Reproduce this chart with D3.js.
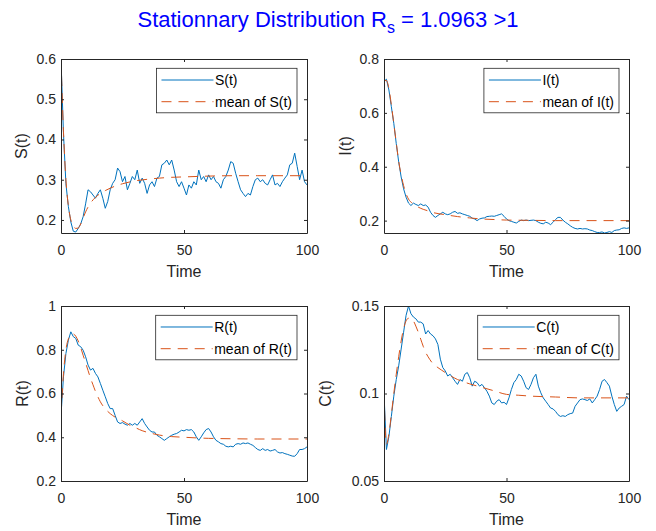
<!DOCTYPE html>
<html>
<head>
<meta charset="utf-8">
<script src="https://cdn.jsdelivr.net/npm/d3@7"></script>
<style>
  body { margin: 0; background: #fff; }
  svg { display: block; font-family: "Liberation Sans", Arial, sans-serif; }
</style>
</head>
<body>
<svg id="chart" width="656" height="531"></svg>
<script>
// sampling grid, t = 0 .. 100
const time = d3.range(0, 101);

const sValues = [
  0.6, 0.416, 0.29, 0.233, 0.195, 0.172, 0.17, 0.179, 0.19, 0.208,
  0.24, 0.275, 0.27, 0.262, 0.254, 0.266, 0.275, 0.254, 0.229, 0.246,
  0.275, 0.291, 0.3, 0.329, 0.32, 0.295, 0.308, 0.275, 0.291, 0.308,
  0.3, 0.324, 0.291, 0.304, 0.291, 0.266, 0.287, 0.295, 0.283, 0.304,
  0.308, 0.337, 0.341, 0.349, 0.337, 0.349, 0.324, 0.295, 0.283, 0.295,
  0.279, 0.262, 0.287, 0.279, 0.295, 0.287, 0.324, 0.3, 0.308, 0.295,
  0.312, 0.3, 0.308, 0.295, 0.291, 0.279, 0.3, 0.308, 0.324, 0.345,
  0.341, 0.316, 0.295, 0.275, 0.266, 0.258, 0.266, 0.262, 0.283, 0.3,
  0.304, 0.295, 0.3, 0.291, 0.287, 0.3, 0.312, 0.287, 0.291, 0.283,
  0.295, 0.304, 0.312, 0.337, 0.341, 0.366, 0.333, 0.3, 0.324, 0.295, 0.287
];
const iValues = [
  0.717, 0.725, 0.685, 0.623, 0.561, 0.486, 0.418, 0.362, 0.318, 0.287,
  0.265, 0.256, 0.265, 0.26, 0.256, 0.262, 0.256, 0.258, 0.25, 0.231,
  0.219, 0.212, 0.219, 0.225, 0.231, 0.225, 0.222, 0.225, 0.231, 0.234,
  0.227, 0.229, 0.225, 0.222, 0.219, 0.216, 0.209, 0.206, 0.2, 0.206,
  0.209, 0.21, 0.215, 0.216, 0.217, 0.216, 0.219, 0.222, 0.225, 0.216,
  0.206, 0.2, 0.197, 0.194, 0.191, 0.197, 0.202, 0.2, 0.202, 0.2,
  0.201, 0.202, 0.2, 0.194, 0.19, 0.188, 0.194, 0.191, 0.185, 0.194,
  0.204, 0.212, 0.212, 0.202, 0.194, 0.188, 0.181, 0.175, 0.171, 0.169,
  0.171, 0.169, 0.17, 0.169, 0.165, 0.163, 0.159, 0.156, 0.156, 0.158,
  0.154, 0.156, 0.159, 0.156, 0.163, 0.165, 0.166, 0.171, 0.173, 0.171, 0.173
];
const rValues = [
  0.5, 0.676, 0.783, 0.844, 0.882, 0.86, 0.852, 0.821, 0.814, 0.798,
  0.768, 0.73, 0.707, 0.715, 0.692, 0.676, 0.646, 0.615, 0.585, 0.554,
  0.531, 0.531, 0.5, 0.47, 0.463, 0.467, 0.46, 0.455, 0.463, 0.455,
  0.463, 0.455, 0.47, 0.485, 0.463, 0.447, 0.432, 0.424, 0.424, 0.409,
  0.402, 0.394, 0.386, 0.394, 0.402, 0.409, 0.414, 0.417, 0.424, 0.432,
  0.429, 0.435, 0.432, 0.435, 0.424, 0.402, 0.386, 0.402, 0.42, 0.435,
  0.44, 0.424, 0.402, 0.386, 0.379, 0.371, 0.368, 0.359, 0.356, 0.359,
  0.356, 0.368, 0.371, 0.368, 0.374, 0.371, 0.374, 0.368, 0.363, 0.353,
  0.344, 0.34, 0.348, 0.34, 0.344, 0.337, 0.34, 0.344, 0.333, 0.328,
  0.33, 0.325, 0.322, 0.318, 0.314, 0.313, 0.325, 0.344, 0.344, 0.348, 0.356
];
const cValues = [
  0.1, 0.068, 0.0754, 0.0869, 0.0985, 0.108, 0.1158, 0.1254, 0.135, 0.1446,
  0.15, 0.1456, 0.1437, 0.1427, 0.1408, 0.1408, 0.1398, 0.134, 0.136, 0.134,
  0.133, 0.1312, 0.128, 0.1196, 0.1148, 0.1129, 0.11, 0.111, 0.109, 0.107,
  0.1052, 0.108, 0.107, 0.111, 0.112, 0.109, 0.1042, 0.107, 0.1062, 0.1042,
  0.1052, 0.1033, 0.1013, 0.0985, 0.0946, 0.0937, 0.0956, 0.0965, 0.0946, 0.095,
  0.0937, 0.0975, 0.1023, 0.1062, 0.108, 0.111, 0.11, 0.107, 0.1033, 0.1023,
  0.1052, 0.109, 0.111, 0.1042, 0.1004, 0.0975, 0.0956, 0.0937, 0.0917, 0.0912,
  0.0898, 0.0879, 0.0869, 0.0873, 0.0869, 0.0879, 0.0885, 0.0888, 0.0927, 0.0946,
  0.0965, 0.0969, 0.0965, 0.096, 0.0969, 0.0946, 0.0965, 0.0985, 0.1023, 0.107,
  0.108, 0.1062, 0.1042, 0.0985, 0.0937, 0.0898, 0.0917, 0.0927, 0.0937, 0.0985, 0.0965
];

// mean curves (read at uneven time steps)
const sMeanT = [0, 1, 2, 3, 4, 5, 6, 7, 8, 9, 10, 12, 14, 16, 18, 20, 25, 30, 35, 40, 45, 50, 60, 70, 80, 100];
const sMean = [0.6, 0.42, 0.3, 0.235, 0.2, 0.185, 0.179, 0.18, 0.19, 0.205, 0.22, 0.242, 0.256, 0.266, 0.273, 0.279, 0.29, 0.297, 0.301, 0.304, 0.306, 0.307, 0.309, 0.31, 0.31, 0.31];
const iMeanT = [0, 1, 2, 3, 4, 5, 6, 7, 8, 9, 10, 12, 14, 16, 18, 20, 25, 30, 35, 40, 45, 50, 60, 70, 80, 100];
const iMean = [0.72, 0.72, 0.69, 0.63, 0.56, 0.49, 0.42, 0.37, 0.33, 0.3, 0.28, 0.262, 0.25, 0.242, 0.236, 0.23, 0.222, 0.215, 0.21, 0.206, 0.204, 0.202, 0.201, 0.2, 0.2, 0.2];
const rMeanT = [0, 1, 2, 3, 4, 5, 6, 7, 8, 9, 10, 11, 12, 13, 14, 15, 16, 18, 20, 22, 25, 28, 30, 33, 36, 40, 45, 50, 55, 60, 70, 80, 100];
const rMean = [0.5, 0.69, 0.8, 0.85, 0.87, 0.872, 0.862, 0.84, 0.81, 0.775, 0.74, 0.705, 0.67, 0.64, 0.61, 0.585, 0.562, 0.53, 0.508, 0.492, 0.475, 0.455, 0.445, 0.43, 0.42, 0.41, 0.403, 0.4, 0.397, 0.395, 0.393, 0.392, 0.392];
const cMeanT = [0, 1, 2, 3, 4, 5, 6, 7, 8, 9, 10, 11, 12, 13, 14, 15, 16, 17, 18, 20, 22, 25, 30, 35, 40, 45, 50, 55, 60, 70, 80, 100];
const cMean = [0.1, 0.071, 0.077, 0.088, 0.1, 0.111, 0.121, 0.13, 0.137, 0.1415, 0.143, 0.1428, 0.1415, 0.1385, 0.135, 0.131, 0.127, 0.1235, 0.121, 0.117, 0.1148, 0.112, 0.108, 0.1055, 0.1035, 0.1015, 0.0995, 0.099, 0.0985, 0.098, 0.0975, 0.0975];

const xTicks = [0, 50, 100];
const sTicks = [0.2, 0.3, 0.4, 0.5, 0.6];
const iTicks = [0.2, 0.4, 0.6, 0.8];
const rTicks = [0.2, 0.4, 0.6, 0.8, 1];
const cTicks = [0.05, 0.1, 0.15];

const blue = '#0072BD';
const orange = '#D95319';
const axisColor = '#262626';

const panels = [
  { name: 'S', values: sValues, meanT: sMeanT, mean: sMean, ticks: sTicks, yDomain: [0.1676, 0.6],
    left: 61, right: 307, top: 59, bottom: 233, labelX: 21.5 },
  { name: 'I', values: iValues, meanT: iMeanT, mean: iMean, ticks: iTicks, yDomain: [0.154, 0.8],
    left: 384, right: 629, top: 59, bottom: 233, labelX: 345 },
  { name: 'R', values: rValues, meanT: rMeanT, mean: rMean, ticks: rTicks, yDomain: [0.2, 1],
    left: 61, right: 307, top: 306, bottom: 481, labelX: 22 },
  { name: 'C', values: cValues, meanT: cMeanT, mean: cMean, ticks: cTicks, yDomain: [0.05, 0.15],
    left: 384, right: 629, top: 306, bottom: 481, labelX: 325.5 }
];

const svg = d3.select('#chart');

/* title */
const title = svg.append('text')
  .attr('x', 328)
  .attr('y', 27)
  .attr('text-anchor', 'middle')
  .attr('fill', '#0000FF')
  .style('font-size', '22px');
title.append('tspan').text('Stationnary Distribution R');
title.append('tspan').attr('dy', 6).style('font-size', '16px').text('s');
title.append('tspan').attr('dy', -6).text(' = 1.0963 >1');

const fmt = d => d3.format('~g')(d);

panels.forEach((p, idx) => {
  const x = d3.scaleLinear().domain([0, 100]).range([p.left, p.right]);
  const y = d3.scaleLinear().domain(p.yDomain).range([p.bottom, p.top]);
  const g = svg.append('g');

  const clipId = 'clip' + idx;
  svg.append('clipPath').attr('id', clipId)
    .append('rect')
    .attr('x', p.left).attr('y', p.top)
    .attr('width', p.right - p.left).attr('height', p.bottom - p.top);

  /* lines */
  const line = d3.line().x(d => x(d[0])).y(d => y(d[1]));
  const smooth = d3.line().x(d => x(d[0])).y(d => y(d[1])).curve(d3.curveMonotoneX);

  g.append('path')
    .datum(time.map((t, i) => [t, p.values[i]]))
    .attr('clip-path', `url(#${clipId})`)
    .attr('fill', 'none')
    .attr('stroke', blue)
    .attr('stroke-width', 1)
    .attr('d', line);

  g.append('path')
    .datum(p.meanT.map((t, i) => [t, p.mean[i]]))
    .attr('clip-path', `url(#${clipId})`)
    .attr('fill', 'none')
    .attr('stroke', orange)
    .attr('stroke-width', 1)
    .attr('stroke-dasharray', '10,7')
    .attr('d', smooth);

  /* axes, ticks pointing inward on all four sides */
  const styleAxis = sel => {
    sel.selectAll('path, line').attr('stroke', axisColor);
    sel.selectAll('text').attr('fill', axisColor).style('font-size', '14px')
      .style('font-family', '"Liberation Sans", Arial, sans-serif');
  };

  g.append('g')
    .attr('transform', `translate(0,${p.bottom})`)
    .call(d3.axisBottom(x).tickValues(xTicks).tickSizeInner(-3).tickSizeOuter(0).tickPadding(12).tickFormat(fmt))
    .call(styleAxis);
  g.append('g')
    .attr('transform', `translate(0,${p.top})`)
    .call(d3.axisTop(x).tickValues(xTicks).tickSizeInner(-3).tickSizeOuter(0).tickFormat(''))
    .call(styleAxis);
  g.append('g')
    .attr('transform', `translate(${p.left},0)`)
    .call(d3.axisLeft(y).tickValues(p.ticks).tickSizeInner(-3).tickSizeOuter(0).tickPadding(5).tickFormat(fmt))
    .call(styleAxis);
  g.append('g')
    .attr('transform', `translate(${p.right},0)`)
    .call(d3.axisRight(y).tickValues(p.ticks).tickSizeInner(-3).tickSizeOuter(0).tickFormat(''))
    .call(styleAxis);

  /* axis labels */
  g.append('text')
    .attr('x', (p.left + p.right) / 2)
    .attr('y', p.bottom + 44)
    .attr('text-anchor', 'middle')
    .attr('fill', axisColor)
    .style('font-size', '16px')
    .text('Time');
  g.append('text')
    .attr('transform', `translate(${p.labelX},${(p.top + p.bottom) / 2}) rotate(-90)`)
    .attr('dy', '0.35em')
    .attr('text-anchor', 'middle')
    .attr('fill', axisColor)
    .style('font-size', '16px')
    .text(`${p.name}(t)`);

  /* legend */
  const legend = g.append('g');
  const box = legend.append('rect')
    .attr('fill', '#fff')
    .attr('stroke', axisColor)
    .attr('stroke-width', 0.8);
  const items = [
    { label: `${p.name}(t)`, color: blue, dash: null },
    { label: `mean of ${p.name}(t)`, color: orange, dash: '10,7' }
  ];
  let maxW = 0;
  items.forEach((it, k) => {
    const cy = 11.7 + k * 21.7;
    legend.append('line')
      .attr('x1', 5).attr('x2', 57).attr('y1', cy).attr('y2', cy)
      .attr('stroke', it.color).attr('stroke-width', 1)
      .attr('stroke-dasharray', it.dash);
    const t = legend.append('text')
      .attr('x', 58.5).attr('y', cy).attr('dy', '0.35em')
      .attr('fill', '#000')
      .style('font-size', '14px')
      .text(it.label);
    maxW = Math.max(maxW, t.node().getComputedTextLength());
  });
  const w = 58.5 + maxW + 5;
  box.attr('x', 0).attr('y', 0).attr('width', w).attr('height', 44.5);
  legend.attr('transform', `translate(${p.right - 10 - w},${p.top + 9.3})`);
});
</script>
</body>
</html>
